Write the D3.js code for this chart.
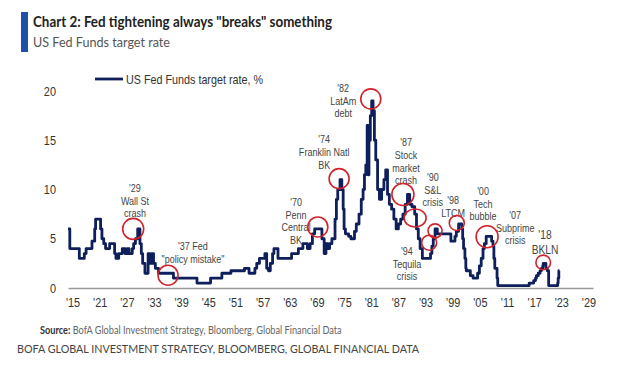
<!DOCTYPE html>
<meta charset="utf-8">
<style>
  body { margin: 0; background: #fff; }
  svg text { font-family: 'Liberation Sans', Arial, sans-serif; }
  svg .lato { font-family: Lato, 'Open Sans', sans-serif; }
</style>
<svg width="630" height="375"></svg>
<script src="https://cdn.jsdelivr.net/npm/d3@7"></script>
<script>
// Fed funds target rate (year, % ; step changes)
var rateYears = [1914.0, 1914.4, 1916.5, 1917.6, 1918.0, 1919.3, 1919.9, 1920.1, 1921.2, 1921.5,
  1921.9, 1922.3, 1923.2, 1924.3, 1924.6, 1925.2, 1926.0, 1926.6, 1927.1, 1927.5,
  1928.2, 1928.5, 1928.9, 1929.4, 1929.9, 1930.2, 1930.5, 1931.0, 1931.7, 1932.1,
  1932.5, 1932.9, 1933.3, 1934.0, 1937.3, 1942.5, 1945.5, 1948.0, 1950.0, 1953.0,
  1954.0, 1954.6, 1955.3, 1955.7, 1956.3, 1957.5, 1957.9, 1958.3, 1958.7, 1959.2,
  1959.5, 1960.4, 1963.4, 1964.9, 1965.9, 1966.9, 1967.5, 1968.0, 1968.5, 1970.1,
  1970.6, 1971.0, 1971.4, 1971.8, 1972.3, 1973.0, 1973.3, 1973.6, 1974.1, 1974.5,
  1974.8, 1975.0, 1975.3, 1976.0, 1976.5, 1977.3, 1977.7, 1978.3, 1978.8, 1979.2,
  1979.5, 1979.8, 1980.1, 1980.3, 1980.5, 1980.8, 1981.1, 1981.4, 1981.7, 1982.0,
  1982.4, 1982.8, 1983.3, 1983.8, 1984.2, 1984.6, 1985.0, 1985.5, 1986.0, 1986.5,
  1987.0, 1987.5, 1988.0, 1988.5, 1989.0, 1989.5, 1990.0, 1990.6, 1991.0, 1991.4,
  1991.8, 1992.3, 1994.1, 1994.4, 1994.7, 1995.1, 1995.6, 1998.6, 1999.5, 1999.8,
  2000.3, 2001.0, 2001.2, 2001.4, 2001.7, 2001.9, 2002.0, 2002.9, 2003.5, 2004.5,
  2004.9, 2005.3, 2005.7, 2006.0, 2006.4, 2007.6, 2007.9, 2008.1, 2008.3, 2008.8,
  2008.95, 2015.9, 2016.9, 2017.3, 2017.5, 2017.9, 2018.3, 2018.6, 2018.9, 2019.0,
  2019.6, 2019.9, 2020.2, 2022.2, 2022.3, 2022.45, 2022.6];
var rateValues = [6.0, 4.0, 3.0, 3.5, 4.0, 4.75, 6.0, 7.0, 6.0, 5.0,
  4.5, 4.0, 4.5, 3.5, 3.0, 3.5, 4.0, 3.5, 4.0, 3.5,
  4.0, 4.5, 5.0, 6.0, 4.5, 3.5, 2.5, 1.5, 3.5, 2.5,
  3.5, 2.5, 2.0, 1.5, 1.0, 0.5, 1.0, 1.5, 1.75, 2.0,
  1.5, 1.5, 2.0, 2.5, 3.0, 3.5, 2.0, 1.75, 2.5, 3.5,
  4.0, 3.0, 3.5, 4.0, 4.5, 4.0, 4.5, 5.5, 6.0, 5.0,
  3.5, 4.5, 4.0, 4.5, 5.0, 7.0, 9.0, 10.0, 11.0, 10.0,
  8.0, 6.0, 5.5, 5.25, 5.0, 5.75, 6.5, 7.5, 9.0, 10.0,
  11.5, 12.5, 16.5, 11.5, 15.0, 17.5, 19.0, 18.0, 15.0, 13.0,
  10.0, 9.0, 10.0, 11.0, 12.0, 9.5, 8.5, 8.0, 7.0, 6.0,
  6.5, 7.0, 7.5, 8.5, 9.5, 8.5, 8.25, 7.5, 6.0, 5.0,
  4.0, 3.0, 3.5, 4.25, 5.0, 6.0, 5.5, 4.75, 5.25, 5.75,
  6.5, 6.0, 5.0, 4.0, 3.0, 2.0, 1.75, 1.25, 1.0, 1.5,
  2.25, 3.0, 4.0, 4.5, 5.25, 4.75, 4.25, 3.0, 2.0, 1.0,
  0.25, 0.5, 0.75, 1.0, 1.25, 1.5, 1.75, 2.0, 2.25, 2.5,
  2.0, 1.75, 0.25, 0.5, 1.0, 1.75, 1.75];

var xTickYears = [1915, 1921, 1927, 1933, 1939, 1945, 1951, 1957, 1963, 1969,
  1975, 1981, 1987, 1993, 1999, 2005, 2011, 2017, 2023, 2029];
var yTicks = [0, 5, 10, 15, 20];

// red rings: [year, rate, ring radius x, ring radius y]
var rings = [
  [1928.4, 6.0, 10.5, 10.5], [1936.1, 1.3, 10, 10], [1969.2, 6.2, 10, 10],
  [1973.9, 11.1, 10, 10], [1980.9, 19.2, 10, 10], [1988.0, 9.5, 11, 11],
  [1990.7, 7.1, 11, 9], [1993.8, 4.6, 7.5, 7.5], [1995.1, 5.8, 7, 7],
  [1999.9, 6.6, 7.5, 7.5], [2006.6, 5.2, 11, 11], [2019.0, 2.6, 7.3, 7.3]
];

// event notes: lines of text and anchor (year, rate) of the first line
var noteLines = [
  ["'29", "Wall St", "crash"], ["'37 Fed", "\"policy mistake\""],
  ["'70", "Penn", "Central", "BK"], ["'74", "Franklin Natl", "BK"],
  ["'82", "LatAm", "debt"], ["'87", "Stock", "market", "crash"],
  ["'90", "S&L", "crisis"], ["'98", "LTCM"], ["'00", "Tech", "bubble"],
  ["'07", "Subprime", "crisis"], ["'94", "Tequila", "crisis"], ["'18", "BKLN"]
];
var noteAnchors = [
  [1928.8, 9.75], [1941.6, 3.86], [1964.4, 8.32], [1970.6, 14.7],
  [1974.8, 19.9], [1988.7, 14.4], [1994.6, 10.86], [1999.1, 8.53],
  [2005.7, 9.44], [2012.8, 7.0], [1988.9, 3.35], [2019.4, 4.97]
];

var svg = d3.select("svg");
var x = d3.scaleLinear().domain([1914, 2030]).range([68, 593]);
var y = d3.scaleLinear().domain([0, 20]).range([288, 91]);

// squeeze a text horizontally so it spans the given width
function fitWidth(sel, left, base, width) {
  var len = sel.node().getComputedTextLength();
  sel.attr("transform", "translate(" + left + "," + base + ") scale(" + (width / len) + ",1)");
}

// header
svg.append("rect").attr("x", 21).attr("y", 12).attr("width", 7).attr("height", 40).attr("fill", "#1f52a6");
svg.append("text").attr("class", "lato").attr("x", 33).attr("y", 27)
  .attr("font-size", 15).attr("font-weight", 700).attr("fill", "#222")
  .attr("textLength", 299).attr("lengthAdjust", "spacingAndGlyphs")
  .text('Chart 2: Fed tightening always "breaks" something');
svg.append("text").attr("class", "lato").attr("x", 33).attr("y", 47)
  .attr("font-size", 13).attr("fill", "#555")
  .attr("textLength", 137).attr("lengthAdjust", "spacingAndGlyphs")
  .text("US Fed Funds target rate");

// legend
svg.append("line").attr("x1", 95).attr("x2", 123).attr("y1", 79).attr("y2", 79)
  .attr("stroke", "#0e1f5b").attr("stroke-width", 2.8);
svg.append("text").attr("x", 126).attr("y", 83.5).attr("font-size", 13).attr("fill", "#333")
  .attr("textLength", 137).attr("lengthAdjust", "spacingAndGlyphs")
  .text("US Fed Funds target rate, %");

// axes
var xAxis = svg.append("g").attr("transform", "translate(0,288)")
  .call(d3.axisBottom(x).tickValues(xTickYears).tickSize(0).tickPadding(10)
    .tickFormat(function(d) { return "'" + String(d).slice(2); }));
xAxis.select(".domain").attr("stroke", "#999").attr("stroke-width", 1.5);
xAxis.selectAll("text").attr("font-size", 13).attr("fill", "#333")
  .attr("transform", "scale(0.84,1)")
  .style("font-family", "'Liberation Sans', Arial, sans-serif");

var yAxis = svg.append("g").attr("transform", "translate(56,0)")
  .call(d3.axisLeft(y).tickValues(yTicks).tickSize(0).tickPadding(0));
yAxis.select(".domain").remove();
yAxis.selectAll(".tick").each(function() {
  var t = d3.select(this).select("text");
  t.attr("font-size", 13).attr("fill", "#333")
    .style("font-family", "'Liberation Sans', Arial, sans-serif");
  t.attr("transform", "scale(0.84,1)");
});

// notes (narrowed with a horizontal squeeze)
noteLines.forEach(function(lines, i) {
  var big = lines[0] === "'18";
  var g = svg.append("g")
    .attr("transform", "translate(" + x(noteAnchors[i][0]) + "," + y(noteAnchors[i][1]) + ") scale(0.82,1)");
  lines.forEach(function(s, j) {
    g.append("text").attr("text-anchor", "middle")
      .attr("font-size", big ? 12.5 : 11).attr("fill", "#444")
      .attr("y", j * (big ? 15 : 12.7)).text(s);
  });
});

// series
var series = rateYears.map(function(yr, i) { return [yr, rateValues[i]]; });
svg.append("path").datum(series)
  .attr("fill", "none").attr("stroke", "#0e1f5b").attr("stroke-width", 2.8)
  .attr("stroke-linejoin", "round")
  .attr("d", d3.line().curve(d3.curveStepAfter)
    .x(function(d) { return x(d[0]); }).y(function(d) { return y(d[1]); }));

// rings
svg.selectAll("ellipse.ring").data(rings).enter().append("ellipse")
  .attr("cx", function(d) { return x(d[0]); }).attr("cy", function(d) { return y(d[1]); })
  .attr("rx", function(d) { return d[2]; }).attr("ry", function(d) { return d[3]; })
  .attr("fill", "none").attr("stroke", "#d0232b").attr("stroke-width", 1.6);

// footer
var src = svg.append("text").attr("class", "lato").attr("font-size", 11).attr("fill", "#666");
src.append("tspan").attr("font-weight", 700).attr("fill", "#333").text("Source:");
src.append("tspan").text(" BofA Global Investment Strategy, Bloomberg, Global Financial Data");
fitWidth(src, 40, 334, 302);

var foot = svg.append("text").attr("class", "lato").attr("font-size", 12).attr("fill", "#444")
  .text("BOFA GLOBAL INVESTMENT STRATEGY, BLOOMBERG, GLOBAL FINANCIAL DATA");
fitWidth(foot, 17, 353, 403);
</script>
